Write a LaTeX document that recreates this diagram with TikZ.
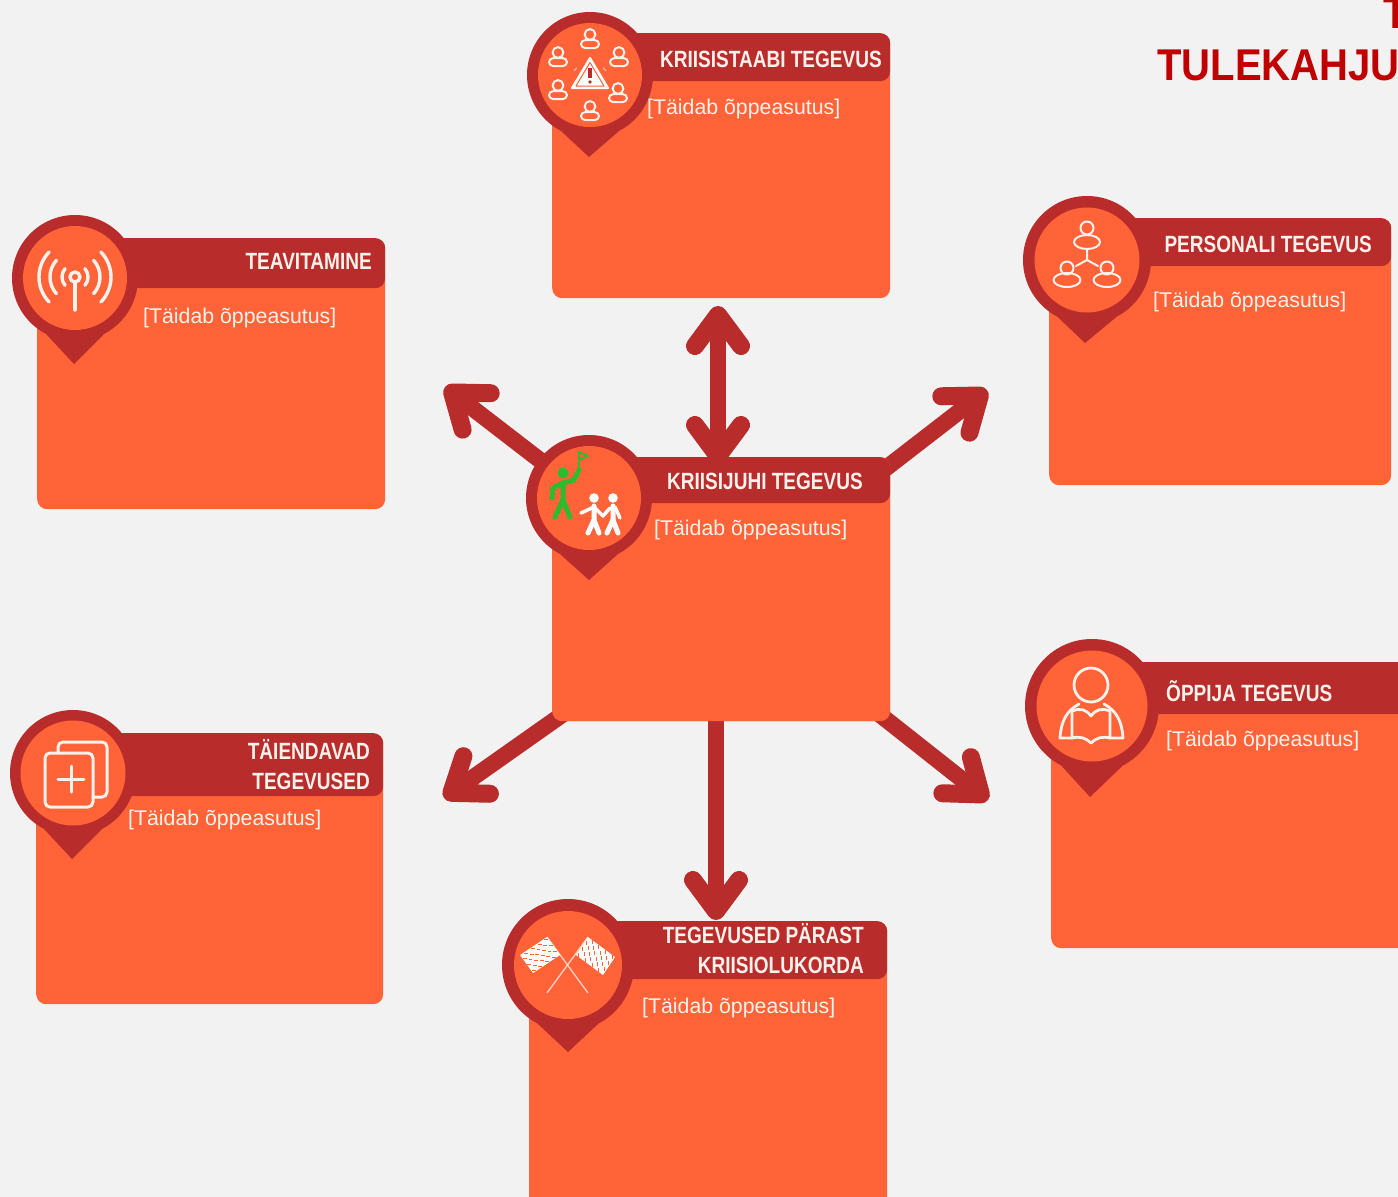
\documentclass[tikz,border=0pt]{standalone}
\usepackage{fontspec}
\usetikzlibrary{arrows.meta}
\setmainfont{Liberation Sans}
\newfontfamily\titlefont[FakeStretch=.81]{Liberation Sans}
\newfontfamily\headfont[FakeStretch=.9]{Liberation Sans}
\definecolor{backgr}{HTML}{F2F2F2}
\definecolor{cardorange}{HTML}{FF6337}
\definecolor{pindark}{HTML}{B82C2C}
\definecolor{headred}{HTML}{C00000}
\definecolor{flaggreen}{HTML}{2EBB2E}
\definecolor{softwhite}{HTML}{FFF1EB}
\tikzset{
	crisis plan/.style={
		x=1pt,y=1pt,
		>={Straight Barb[length=31pt,width=46pt,round,line width=18pt]},
		big arrow/.style={
			draw=pindark,
			line width=16.5pt
		},
		icon line/.style={
			draw=softwhite,
			line width=2pt,
			line cap=round,
			line join=round
		},
		walker line/.style={
			draw=white,
			line width=5pt,
			line cap=round,
			line join=round
		},
		guide line/.style={
			walker line,
			draw=flaggreen
		}
	},
	card/.style={
		rectangle,
		fill=cardorange,
		rounded corners=10pt,
		anchor=north west,
		inner sep=0pt
	},
	header/.style={
		rectangle,
		fill=pindark,
		rounded corners=10pt,
		anchor=north,
		inner sep=0pt
	},
	pin/.style={
		circle,
		fill=pindark,
		inner sep=0pt
	},
	pin face/.style={
		circle,
		fill=cardorange,
		inner sep=0pt
	},
	card title/.style={
		font=\titlefont\bfseries\fontsize{23.5}{30}\selectfont,
		text=softwhite,
		inner sep=0pt,
		align=right
	},
	card text/.style={
		font=\fontsize{21.3}{26}\selectfont,
		text=softwhite,
		anchor=west,
		yshift=-2pt,
		inner sep=0pt
	},
	plan title/.style={
		font=\headfont\bfseries\fontsize{44.5}{50}\selectfont,
		text=headred,
		anchor=base west,
		inner sep=0pt
	},
	pics/person/.style={
		code={
			\draw[icon line] (0,3.5) circle (5.4);
			\draw[icon line,rounded corners=4pt] (-9,-10) rectangle (9,-2.2);
		}
	}
}
\begin{document}
\begin{tikzpicture}[crisis plan]
	\useasboundingbox (0,0) rectangle (1398,-1197);
	\clip (0,0) rectangle (1398,-1197);
	\fill[backgr] (0,0) rectangle (1398,-1197);
	% cards
	\node[card,minimum width=338,minimum height=265] (staap) at (552,-33) {};
	\node[card,minimum width=348,minimum height=271] (teavitus) at (37,-238) {};
	\node[card,minimum width=342,minimum height=267] (personal) at (1049,-218) {};
	\node[card,minimum width=338,minimum height=264] (juht) at (552,-457) {};
	\node[card,minimum width=380,minimum height=286] (oppija) at (1051,-662) {};
	\node[card,minimum width=347,minimum height=271] (taiendus) at (36,-733) {};
	\node[card,minimum width=358,minimum height=300] (parast) at (529,-921) {};
	% arrows
	\coordinate (tipn) at (718,-306);
	\coordinate (tipnw) at (445,-387);
	\coordinate (tipne) at (987,-390);
	\coordinate (tipsw) at (444,-798);
	\coordinate (tipse) at (988,-800);
	\coordinate (tips) at (716,-920);
	\draw[big arrow,<->] (tipn) -- ([yshift=-8pt]tipn |- juht.north);
	\draw[big arrow,->] (589,-498) -- (tipnw);
	\draw[big arrow,->] ([shift={(-12,-17)}]juht.north east) -- (tipne);
	\draw[big arrow,->] ([shift={(12,8)}]juht.south west) -- (tipsw);
	\draw[big arrow,->] ([shift={(-12,8)}]juht.south east) -- (tipse);
	\draw[big arrow,->] (tips |- juht.south) -- (tips);
	\node[card,minimum width=338,minimum height=264] (juhtcard) at (juht.north west) {};
	% headers
	\node[header,minimum width=338,minimum height=48] (staaphead) at (staap.north) {};
	\node[header,minimum width=348,minimum height=50] (teavitushead) at (teavitus.north) {};
	\node[header,minimum width=342,minimum height=48] (personalhead) at (personal.north) {};
	\node[header,minimum width=338,minimum height=46] (juhthead) at (juht.north) {};
	\node[header,minimum width=380,minimum height=52] (oppijahead) at (oppija.north) {};
	\node[header,minimum width=347,minimum height=63] (taiendushead) at (taiendus.north) {};
	\node[header,minimum width=358,minimum height=58] (parasthead) at (parast.north) {};
	% pins
	\node[pin,minimum size=126] (staappin) at (590,-75) {};
	\fill[pindark] (staappin.243) -- (589,-157) -- (staappin.297) -- cycle;
	\node[pin face,minimum size=104] (staapface) at (staappin) {};
	\node[pin,minimum size=126] (teavituspin) at (75,-278) {};
	\fill[pindark] (teavituspin.243) -- (74,-364) -- (teavituspin.297) -- cycle;
	\node[pin face,minimum size=104] (teavitusface) at (teavituspin) {};
	\node[pin,minimum size=128] (personalpin) at (1087,-260) {};
	\fill[pindark] (personalpin.243) -- (1085,-343) -- (personalpin.297) -- cycle;
	\node[pin face,minimum size=105] (personalface) at (personalpin) {};
	\node[pin,minimum size=126] (juhtpin) at (589,-498) {};
	\fill[pindark] (juhtpin.243) -- (589,-580) -- (juhtpin.297) -- cycle;
	\node[pin face,minimum size=104] (juhtface) at (juhtpin) {};
	\node[pin,minimum size=134] (oppijapin) at (1092,-706) {};
	\fill[pindark] (oppijapin.243) -- (1090,-797) -- (oppijapin.297) -- cycle;
	\node[pin face,minimum size=111] (oppijaface) at (oppijapin) {};
	\node[pin,minimum size=126] (taienduspin) at (73,-773) {};
	\fill[pindark] (taienduspin.243) -- (72,-859) -- (taienduspin.297) -- cycle;
	\node[pin face,minimum size=105] (taiendusface) at (taienduspin) {};
	\node[pin,minimum size=132] (parastpin) at (568,-965) {};
	\fill[pindark] (parastpin.243) -- (568,-1052) -- (parastpin.297) -- cycle;
	\node[pin face,minimum size=108] (parastface) at (parastpin) {};
	% crisis staff icon
	\pic at (590,-38) {person};
	\pic at (558,-56) {person};
	\pic at (619,-56) {person};
	\pic at (558,-89) {person};
	\pic at (618,-92) {person};
	\pic at (590,-110) {person};
	\fill[white,draw=white,line width=2pt,line join=round] (590,-58) -- (608,-88) -- (572,-88) -- cycle;
	\draw[cardorange,line width=1pt,line join=round] (590,-62.5) -- (604,-86) -- (576,-86) -- cycle;
	\draw[pindark,line width=3.2pt] (590,-68) -- (590,-78);
	\fill[pindark] (590,-82) circle (1.8);
	\draw[softwhite,opacity=.6,line width=1.2pt] (574,-71) arc (160:120:6);
	\draw[softwhite,opacity=.6,line width=1.2pt] (606,-71) arc (20:60:6);
	% antenna icon
	\begin{scope}[shift={(75,-277)}]
		\draw[icon line,line width=3.4pt] (0,0) circle (5);
		\draw[icon line,line width=3.4pt] (0,-5) -- (0,-33);
		\foreach \radius/\sweep in {13/40,25/42,36/44} {
			\draw[icon line,line width=3.4pt] (-\sweep:\radius) arc (-\sweep:\sweep:\radius);
			\draw[icon line,line width=3.4pt] (180-\sweep:\radius) arc (180-\sweep:180+\sweep:\radius);
		}
	\end{scope}
	% staff icon
	\draw[icon line] (1087,-228) circle (6.5);
	\draw[icon line] (1087,-242) ellipse (13 and 7);
	\draw[icon line] (1067,-268) circle (6.5);
	\draw[icon line] (1067,-280) ellipse (13.5 and 7);
	\draw[icon line] (1107,-268) circle (6.5);
	\draw[icon line] (1107,-280) ellipse (13.5 and 7);
	\draw[icon line] (1087,-250) -- (1087,-260) -- (1076,-266);
	\draw[icon line] (1087,-260) -- (1098,-266);
	% reader icon
	\draw[icon line,line width=2.8pt] (1091,-685) circle (17);
	\draw[icon line,line width=2.8pt] (1072,-711) .. controls (1080,-708) and (1086,-709) .. (1091,-716) .. controls (1096,-709) and (1102,-708) .. (1110,-711) -- (1110,-738) .. controls (1102,-736) and (1096,-738) .. (1091,-743) .. controls (1086,-738) and (1080,-736) .. (1072,-738) -- cycle;
	\draw[icon line,line width=2.8pt] (1072,-738) -- (1060,-738) .. controls (1061,-722) and (1066,-711) .. (1079,-704);
	\draw[icon line,line width=2.8pt] (1110,-738) -- (1123,-738) .. controls (1122,-722) and (1117,-711) .. (1104,-704);
	% guide and walkers icon
	\fill[flaggreen] (563,-473) circle (5.5);
	\draw[guide line] (563,-483) -- (563,-500) -- (555,-517);
	\draw[guide line] (563,-500) -- (570,-517);
	\draw[guide line] (563,-483) -- (553,-488) -- (552,-498);
	\draw[guide line] (563,-483) -- (574,-480) -- (579,-470);
	\draw[flaggreen,line width=1.8pt,line join=round] (579,-470) -- (579,-452) -- (588,-456) -- (579,-460);
	\fill[white] (594,-498) circle (4.8);
	\fill[white] (613,-498) circle (4.8);
	\draw[walker line] (594,-506) -- (594,-520) -- (588,-533);
	\draw[walker line] (594,-520) -- (599,-533);
	\draw[walker line,line width=3.5pt] (594,-507) -- (581,-513);
	\draw[walker line,line width=3.5pt] (594,-507) -- (603,-516) -- (610,-508);
	\draw[walker line] (613,-506) -- (613,-520) -- (607,-533);
	\draw[walker line] (613,-520) -- (618,-533);
	\draw[walker line,line width=3.5pt] (615,-507) -- (620,-518);
	% extra cards icon
	\draw[icon line,line width=3pt,rounded corners=5pt] (58,-753) -- (58,-742) -- (107,-742) -- (107,-797) -- (93,-797);
	\draw[icon line,line width=3pt,rounded corners=5pt] (45,-753) rectangle (93,-807);
	\draw[icon line,line width=3pt] (58,-779) -- (84,-779);
	\draw[icon line,line width=3pt] (71,-766) -- (71,-792);
	% flags icon
	\draw[softwhite,opacity=.75,line width=1.4pt] (547,-937) -- (588,-993);
	\draw[softwhite,opacity=.75,line width=1.4pt] (588,-937) -- (547,-993);
	\begin{scope}[shift={(520,-955)},x={(3.375pt,2.25pt)},y={(2.17pt,-3pt)}]
		\fill[white] (0,0) -- (8,0) -- (8,6) -- (0,6) -- cycle;
		\foreach \col in {0,...,7} {
			\foreach \row in {0,...,5} {
				\ifodd\numexpr\col+\row\relax \fill[cardorange] (\col+.15,\row+.15) rectangle ++(.7,.7); \fi
			}
		}
	\end{scope}
	\begin{scope}[shift={(588,-937)},x={(3.375pt,-2.5pt)},y={(-2pt,-3pt)}]
		\fill[white] (0,0) -- (8,0) -- (8,6) -- (0,6) -- cycle;
		\foreach \col in {0,...,7} {
			\foreach \row in {0,...,5} {
				\ifodd\numexpr\col+\row\relax \fill[cardorange] (\col+.15,\row+.15) rectangle ++(.7,.7); \fi
			}
		}
	\end{scope}
	% texts
	\node[card title,anchor=east] (staaptitle) at (882,-59) {KRIISISTAABI TEGEVUS};
	\node[card title,anchor=east] (teavitustitle) at (372,-261) {TEAVITAMINE};
	\node[card title,anchor=east] (personaltitle) at (1372,-244) {PERSONALI TEGEVUS};
	\node[card title,anchor=east] (juhttitle) at (863,-481) {KRIISIJUHI TEGEVUS};
	\node[card title,anchor=west] (oppijatitle) at (1166,-691) {ÕPPIJA TEGEVUS};
	\node[card title,anchor=east] (taiendustitle) at (370,-765) {TÄIENDAVAD\\TEGEVUSED};
	\node[card title,anchor=east] (parasttitle) at (864,-949) {TEGEVUSED PÄRAST\\KRIISIOLUKORDA};
	\node[card text] (staaptext) at (647,-107) {[Täidab õppeasutus]};
	\node[card text] (teavitustext) at (143,-316) {[Täidab õppeasutus]};
	\node[card text] (personaltext) at (1153,-300) {[Täidab õppeasutus]};
	\node[card text] (juhttext) at (654,-528) {[Täidab õppeasutus]};
	\node[card text] (oppijatext) at (1166,-739) {[Täidab õppeasutus]};
	\node[card text] (taiendustext) at (128,-818) {[Täidab õppeasutus]};
	\node[card text] (parasttext) at (642,-1006) {[Täidab õppeasutus]};
	\node[plan title] (planletter) at (1383,-28) {T};
	\node[plan title] (planname) at (1157,-80) {TULEKAHJU};
\end{tikzpicture}
\end{document}
